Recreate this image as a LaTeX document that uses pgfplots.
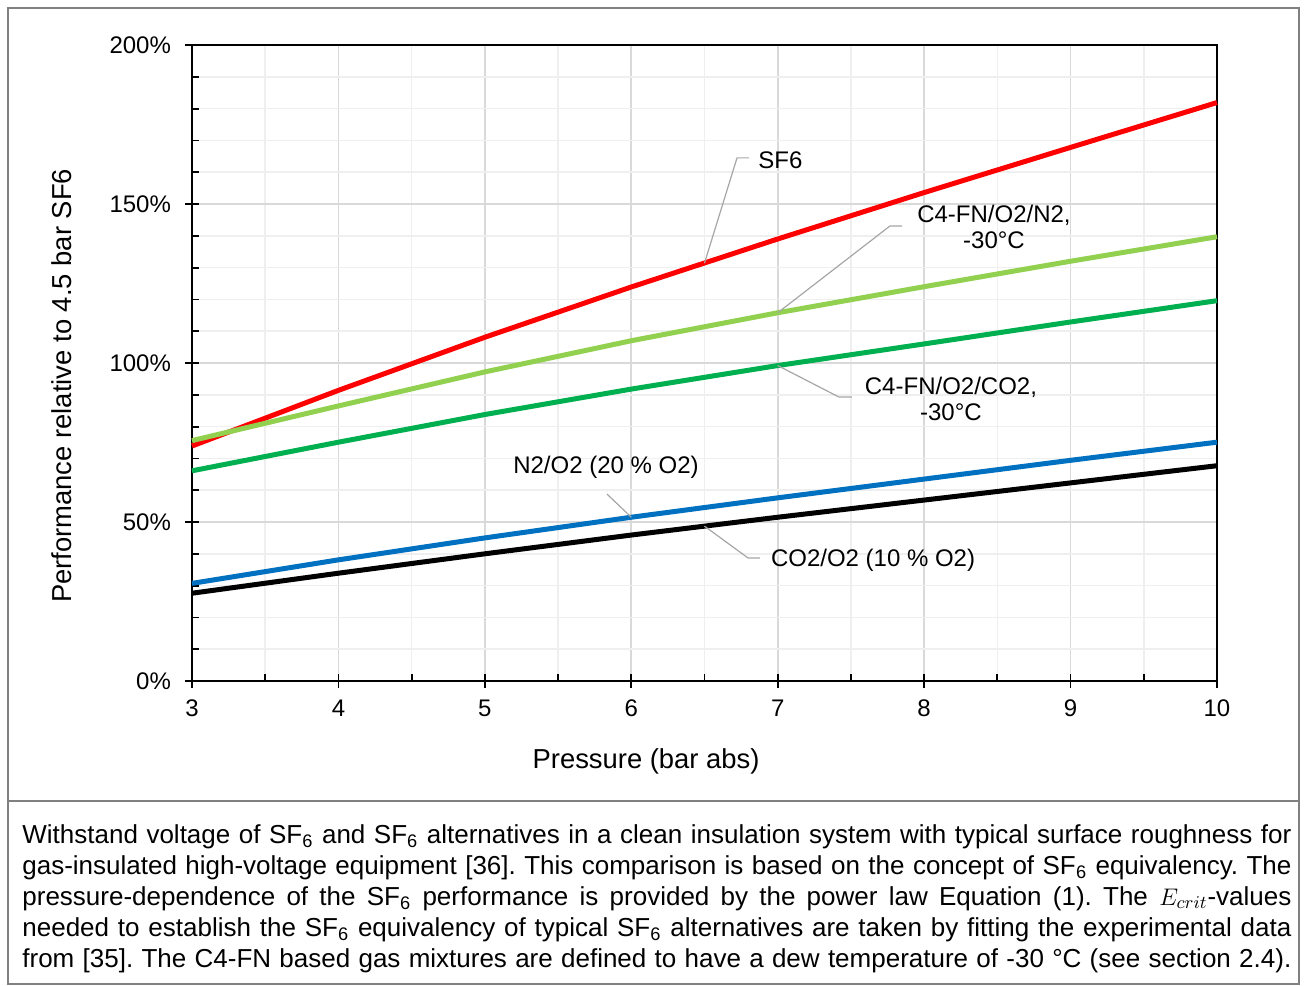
\documentclass[border=0pt]{standalone}
\usepackage{fontspec}
\setmainfont{Liberation Sans}
\usepackage{pgfplots}
\pgfplotsset{compat=1.18}

\definecolor{sfred}{HTML}{FF0000}
\definecolor{lgreen}{HTML}{92D050}
\definecolor{dgreen}{HTML}{00B050}
\definecolor{eblue}{HTML}{0070C0}
\definecolor{leader}{HTML}{A6A6A6}
\definecolor{framegray}{HTML}{808080}
\definecolor{majgrid}{HTML}{D9D9D9}
\definecolor{mingrid}{HTML}{EFEFEF}

\begin{document}
\begin{tikzpicture}[x=0.5pt,y=-0.5pt]
\useasboundingbox (0,0) rectangle (1306,985);
\draw[framegray, line width=1pt] (7.5,8) rectangle (1299,984);
\draw[framegray, line width=1pt] (7.5,801) -- (1299,801);

\begin{axis}[
  at={(96pt,-340.5pt)}, anchor=south west,
  scale only axis, width=512.5pt, height=318pt,
  xmin=3, xmax=10, ymin=0, ymax=200,
  xtick={3,...,10}, ytick={0,50,...,200},
  minor x tick num=1, minor y tick num=4,
  grid=both,
  major grid style={majgrid, line width=0.8pt},
  minor grid style={mingrid, line width=0.8pt},
  axis line style={black, line width=1pt},
  tick align=inside, major tick length=3.5pt, minor tick length=3.5pt,
  tick style={black, line width=0.9pt},
  xtick pos=bottom, ytick pos=left,
  extra x ticks={3,...,10}, extra x tick labels={},
  extra x tick style={tick align=outside, grid=none},
  extra y ticks={0,50,...,200}, extra y tick labels={},
  extra y tick style={tick align=outside, grid=none},
  /pgf/number format/assume math mode=true,
  ticklabel style={font=\fontsize{12}{14}\selectfont},
  yticklabel={\pgfmathprintnumber{\tick}\%},
  yticklabel style={xshift=-7pt},
  xticklabel style={yshift=-6pt},
  xlabel={Pressure (bar abs)},
  ylabel={Performance relative to 4.5 bar SF6},
  label style={font=\fontsize{13.7}{16}\selectfont},
  xlabel style={at={(axis description cs:0.443,-0.127)}, anchor=center},
  ylabel style={at={(axis description cs:-0.127,0.464)}, anchor=center},
  clip=false,
  every axis plot/.append style={line width=2.5pt, line join=round},
]

% SF6
\addplot[sfred] coordinates {
(3,73.9) (4,91.4) (5,108.1) (6,123.9) (7,139.0) (8,153.6) (9,167.8) (10,181.9)};
% C4-FN/O2/N2, -30 C
\addplot[lgreen] coordinates {
(3,75.6) (4,86.5) (5,97.2) (6,107.0) (7,115.8) (8,124.0) (9,132.0) (10,139.7)};
% C4-FN/O2/CO2, -30 C
\addplot[dgreen] coordinates {
(3,66.1) (4,75.1) (5,83.8) (6,91.8) (7,99.2) (8,106.0) (9,112.9) (10,119.6)};
% N2/O2 (20 % O2)
\addplot[eblue] coordinates {
(3,30.7) (4,38.1) (5,45.0) (6,51.5) (7,57.6) (8,63.5) (9,69.4) (10,75.1)};
% CO2/O2 (10 % O2)
\addplot[black] coordinates {
(3,27.6) (4,33.9) (5,40.0) (6,45.9) (7,51.5) (8,56.9) (9,62.3) (10,67.7)};

% leader lines and labels
\begin{scope}[every node/.style={font=\fontsize{12}{14}\selectfont, inner sep=0pt}]
\draw[leader, line width=0.6pt] (axis cs:6.804,164.5) -- (axis cs:6.722,164.5) -- (axis cs:6.5,131.4);
\node[anchor=west] at (axis cs:6.865,163.8) {SF6};

\draw[leader, line width=0.6pt] (axis cs:7.849,143.1) -- (axis cs:7.767,143.1) -- (axis cs:7,115.8);
\node[align=center] at (axis cs:8.477,142.9) {C4-FN/O2/N2,\\[-1pt]-30°C};

\draw[leader, line width=0.6pt] (axis cs:7.507,89.3) -- (axis cs:7.418,89.3) -- (axis cs:7,99.2);
\node[align=center] at (axis cs:8.183,88.8) {C4-FN/O2/CO2,\\[-1pt]-30°C};

\draw[leader, line width=0.6pt] (axis cs:5.834,58.8) -- (axis cs:6,51.5);
\node at (axis cs:5.827,67.3) {N2/O2 (20 \% O2)};

\draw[leader, line width=0.6pt] (axis cs:6.879,38.7) -- (axis cs:6.797,38.7) -- (axis cs:6.5,48.7);
\node at (axis cs:7.651,38.1) {CO2/O2 (10 \% O2)};
\end{scope}
\end{axis}

\node[anchor=base west, inner sep=0pt, text width=634.5pt, align=justify,
  font=\fontsize{13}{15.5}\selectfont] at (22,843) {\frenchspacing\hyphenpenalty=10000\exhyphenpenalty=10000\parfillskip=0pt
Withstand voltage of SF\textsubscript{6} and SF\textsubscript{6} alternatives in a clean insulation system with typical surface roughness for\linebreak
gas-insulated high-voltage equipment [36]. This comparison is based on the concept of SF\textsubscript{6} equivalency. The\linebreak
pressure-dependence of the SF\textsubscript{6} performance is provided by the power law Equation (1). The $E_{crit}$-values\linebreak
needed to establish the SF\textsubscript{6} equivalency of typical SF\textsubscript{6} alternatives are taken by fitting the experimental data\linebreak
from [35]. The C4-FN based gas mixtures are defined to have a dew temperature of -30 °C (see section 2.4).\par};
\end{tikzpicture}
\end{document}
